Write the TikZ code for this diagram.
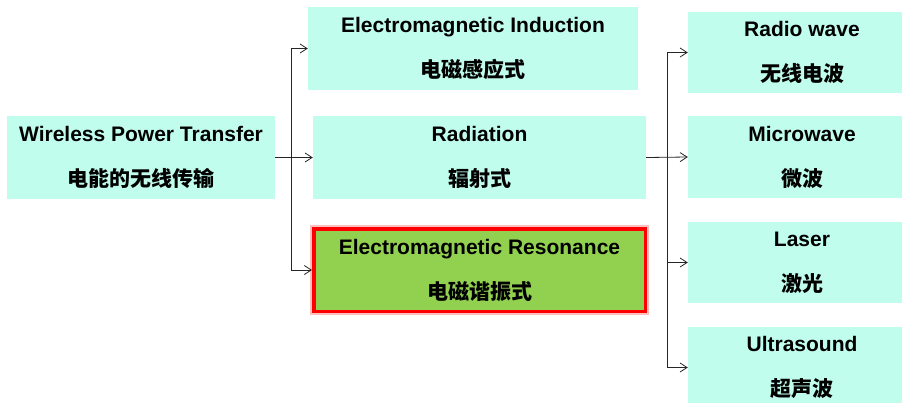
\documentclass[tikz,border=0pt]{standalone}
\usepackage{fontspec}
\setmainfont{Liberation Sans}
\newfontfamily\cjk{Noto Sans CJK SC}
\usetikzlibrary{arrows.meta}
\definecolor{boxcyan}{RGB}{192,253,236}
\definecolor{boxgreen}{RGB}{146,208,80}

\begin{document}
\begin{tikzpicture}[x=1pt,y=-1pt,
  box/.style={fill=boxcyan, inner sep=0pt, align=center,
    font=\fontsize{21}{45}\selectfont\bfseries},
  hot/.style={box, fill=boxgreen, draw=red, line width=3.5pt,
    preaction={draw=red!25, line width=7pt}},
  link/.style={draw=black!85, line width=0.8pt},
  tip/.style={link, -{Straight Barb[length=7pt,width=9pt]}}]
\useasboundingbox (0,0) rectangle (902,402);
\clip (0,0) rectangle (902,402);
% left box
\node[box, minimum width=268pt, minimum height=83pt] (wpt) at (141,157.5)
  {Wireless Power Transfer\\{\cjk 电能的无线传输}};
% middle column
\node[box, minimum width=330pt, minimum height=83pt] (induction) at (473,48.5)
  {Electromagnetic Induction\\{\cjk 电磁感应式}};
\node[box, minimum width=333pt, minimum height=83pt] (radiation) at (479.5,157.5)
  {Radiation\\{\cjk 辐射式}};
\node[hot, minimum width=331.5pt, minimum height=82.5pt] (resonance) at (479.5,270)
  {Electromagnetic Resonance\\{\cjk 电磁谐振式}};
% right column
\node[box, minimum width=228pt, minimum height=81pt] (radio) at (802,52.5)
  {Radio wave\\{\cjk 无线电波}};
\node[box, minimum width=228pt, minimum height=82pt] (micro) at (802,157)
  {Microwave\\{\cjk 微波}};
\node[box, minimum width=228pt, minimum height=81pt] (laser) at (802,262.5)
  {Laser\\{\cjk 激光}};
\node[box, minimum width=228pt, minimum height=81pt] (ultra) at (802,367.5)
  {Ultrasound\\{\cjk 超声波}};
% connectors
\coordinate (mid) at (291,157.5);
\coordinate (right) at (667,157.5);
\draw[tip] (wpt.east) -- (radiation.west);
\draw[tip] (mid) |- (induction.west);
\draw[tip] (mid) |- (resonance.west);
\draw[tip] (radiation.east) -- (micro.west);
\draw[tip] (right) |- (radio.west);
\draw[tip] (right) |- (laser.west);
\draw[tip] (right) |- (ultra.west);
\end{tikzpicture}
\end{document}
